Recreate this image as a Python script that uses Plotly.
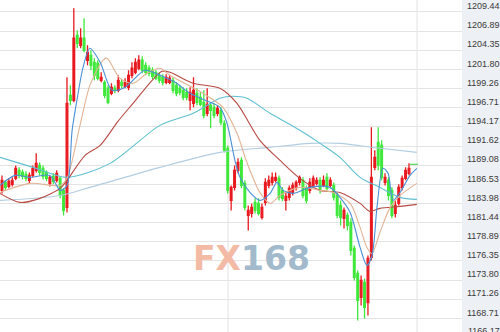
import plotly.graph_objects as go

# ---------------- data ----------------
candle_idx = list(range(120))
opens = [1185.73,1186.79,1186.26,1186.53,1187.33,1188.39,1188.12,1187.86,1187.06,1187.72,
         1188.39,1189.05,1188.66,1188.12,1186.66,1187.59,1187.06,1187.33,1185.73,1183.47,
         1198.36,1197.70,1206.34,1205.01,1205.95,1203.02,1203.68,1202.75,1202.62,1200.36,
         1200.09,1199.30,1198.63,1199.30,1199.03,1200.09,1199.56,1199.43,1201.02,1201.42,
         1201.96,1203.02,1202.35,1201.96,1201.69,1201.42,1201.02,1200.76,1200.09,1200.09,
         1200.36,1199.69,1199.30,1199.03,1198.76,1197.70,1197.30,1198.63,1198.10,1197.43,
         1195.97,1197.03,1196.77,1195.97,1196.37,1194.64,1191.32,1184.40,1186.13,1188.39,
         1189.72,1186.66,1182.40,1182.67,1184.13,1184.00,1182.14,1184.13,1186.39,1186.79,
         1187.06,1187.33,1185.73,1184.40,1184.80,1185.46,1186.13,1186.79,1187.06,1186.00,
         1185.73,1186.39,1186.66,1187.06,1186.39,1187.46,1186.39,1186.39,1185.06,1183.73,
         1182.01,1182.40,1181.47,1178.02,1174.69,1171.50,1173.49,1170.83,1176.82,1188.79,
         1192.11,1191.71,1186.79,1187.06,1185.73,1182.67,1184.00,1186.13,1187.33,1187.99]
highs = [1187.72,1187.06,1187.33,1187.46,1189.05,1188.79,1188.52,1188.26,1188.12,1189.05,
         1190.65,1189.45,1189.05,1188.39,1187.72,1187.99,1188.39,1187.59,1186.00,1200.76,
         1199.69,1209.94,1207.01,1207.28,1208.61,1205.01,1204.35,1203.29,1203.02,1201.42,
         1200.36,1199.69,1199.96,1199.69,1201.02,1200.49,1200.63,1201.69,1202.75,1203.29,
         1203.68,1203.55,1202.75,1202.35,1202.09,1201.69,1201.42,1201.16,1201.16,1201.02,
         1200.76,1200.09,1199.69,1199.43,1199.30,1199.43,1200.76,1199.30,1198.76,1199.03,
         1199.30,1197.43,1197.30,1197.03,1196.77,1195.04,1191.71,1186.39,1189.05,1189.99,
         1190.12,1187.06,1183.73,1184.00,1184.67,1184.67,1184.00,1187.33,1187.72,1188.12,
         1188.12,1187.72,1186.13,1185.46,1186.39,1186.79,1187.06,1187.72,1187.46,1186.39,
         1187.33,1187.72,1187.46,1187.46,1187.72,1187.99,1187.46,1186.79,1185.46,1184.40,
         1183.47,1182.80,1182.01,1178.41,1175.09,1174.42,1174.03,1177.08,1194.11,1191.05,
         1194.11,1192.38,1187.99,1187.46,1186.13,1184.40,1186.53,1187.72,1188.79,1189.32]
lows = [1185.33,1185.73,1186.00,1186.26,1187.06,1187.33,1187.19,1186.93,1186.66,1187.46,
        1188.12,1187.72,1187.19,1186.93,1186.26,1186.53,1186.79,1184.67,1182.40,1182.80,
        1197.03,1197.43,1204.62,1204.62,1204.08,1202.35,1201.69,1200.36,1200.36,1200.09,
        1197.97,1197.17,1198.36,1198.63,1198.76,1199.30,1199.30,1199.03,1200.63,1201.16,
        1201.69,1201.29,1201.02,1200.89,1200.49,1200.36,1199.96,1199.69,1199.83,1199.83,
        1198.63,1198.23,1198.36,1197.70,1197.70,1196.37,1196.77,1197.03,1196.90,1195.31,
        1195.57,1193.98,1195.31,1195.57,1194.37,1190.78,1185.33,1183.07,1185.73,1187.99,
        1186.00,1183.07,1180.41,1182.14,1182.67,1182.40,1181.87,1183.73,1186.00,1186.39,
        1186.79,1184.40,1184.27,1183.07,1184.40,1185.06,1185.73,1186.39,1184.67,1184.00,
        1185.33,1186.00,1186.39,1185.33,1186.13,1185.73,1186.00,1184.40,1182.01,1181.07,
        1180.68,1180.41,1177.08,1173.76,1168.44,1170.43,1168.71,1169.10,1176.42,1188.39,
        1188.39,1187.06,1186.39,1184.40,1182.01,1182.14,1183.73,1185.73,1187.06,1187.72]
closes = [1187.06,1186.13,1186.93,1187.06,1188.66,1187.72,1187.59,1187.33,1187.72,1188.66,
          1189.32,1188.12,1187.59,1187.33,1187.46,1186.93,1187.99,1185.06,1183.07,1197.30,
          1197.70,1205.95,1205.28,1205.95,1204.35,1204.08,1202.35,1201.02,1200.63,1200.76,
          1198.36,1197.43,1199.43,1199.03,1200.36,1199.69,1200.09,1201.02,1201.96,1202.75,
          1203.02,1201.69,1201.42,1201.29,1200.89,1200.63,1200.36,1200.09,1200.76,1200.63,
          1199.03,1198.63,1198.76,1198.10,1198.10,1198.76,1199.03,1197.43,1197.17,1195.70,
          1197.17,1196.37,1195.70,1196.64,1194.77,1191.05,1185.73,1186.13,1188.39,1189.45,
          1186.39,1183.47,1183.07,1183.47,1183.07,1182.67,1183.47,1186.79,1187.06,1187.46,
          1187.46,1184.80,1184.67,1184.93,1186.00,1186.39,1186.79,1187.46,1185.06,1184.40,
          1186.79,1187.33,1187.06,1185.73,1187.06,1186.00,1187.06,1184.80,1182.40,1182.14,
          1183.07,1181.07,1177.75,1174.16,1171.10,1173.76,1170.17,1176.69,1187.46,1190.12,
          1189.05,1187.46,1187.46,1185.06,1182.40,1183.73,1186.13,1187.33,1188.39,1188.66]

ma_fast_x = [-0.6,3.8,8.2,14.0,17.0,19.0,20.5,21.9,23.7,25.7,28.7,32.2,36.0,41.8,46.2,50.6,55.0,59.4,
             63.7,65.8,68.1,69.6,72.5,75.4,78.4,80.4,82.2,85.1,90.1,95.9,98.8,101.8,104.7,106.7,
             108.2,109.7,111.4,112.9,114.3,116.4,119.3,121.3]
ma_fast_y = [1186.39,1187.72,1187.46,1187.72,1185.73,1186.39,1193.71,1197.70,1202.09,1204.62,1202.75,
             1199.03,1199.43,1201.69,1201.02,1200.09,1198.63,1197.70,1196.77,1194.64,1189.72,1187.46,
             1185.46,1184.40,1185.33,1186.79,1185.73,1185.33,1186.13,1186.13,1184.80,1182.80,1178.15,
             1175.76,1177.08,1183.73,1188.66,1187.99,1184.40,1185.46,1187.72,1188.66]

ma_mid_x = [-0.6,8.2,17.0,19.0,22.8,25.7,29.5,30.7,34.5,38.3,42.4,46.2,49.1,58.8,64.6,68.7,71.6,75.4,
            78.4,81.3,87.1,93.0,96.8,101.8,104.7,106.7,108.2,110.5,113.5,116.4,121.3]
ma_mid_y = [1185.46,1186.66,1186.39,1187.33,1194.37,1199.69,1203.02,1203.29,1200.63,1199.96,1201.29,
            1201.96,1201.02,1198.63,1196.77,1193.31,1189.45,1185.46,1184.00,1185.06,1186.13,1185.73,
            1185.46,1184.00,1180.81,1178.15,1177.35,1180.14,1183.47,1185.06,1186.66]

ma30_x = [-0.6,5.3,11.1,17.0,19.0,24.3,28.7,33.9,38.3,43.9,46.8,49.1,55.9,63.7,68.7,75.4,81.3,87.1,
          93.0,98.8,104.7,107.6,110.5,116.4,121.3]
ma30_y = [1185.33,1184.13,1184.67,1186.00,1187.06,1190.38,1191.71,1194.90,1197.30,1200.36,1201.55,
          1201.42,1199.96,1199.30,1197.30,1192.38,1189.72,1187.33,1185.73,1185.46,1184.00,1182.94,
          1183.34,1183.60,1183.87]

ma60_x = [-0.6,9.1,19.0,31.6,46.2,55.9,63.7,67.5,71.6,78.4,87.1,93.0,98.8,104.7,110.5,116.4,121.3]
ma60_y = [1190.12,1188.79,1187.46,1189.32,1194.37,1195.97,1197.97,1198.23,1197.97,1195.97,1193.71,
          1191.98,1190.12,1187.46,1186.13,1184.80,1184.53]

ma120_x = [-0.6,17.0,25.7,46.2,63.7,78.4,90.1,98.8,110.5,121.3]
ma120_y = [1184.40,1185.06,1186.13,1188.79,1190.78,1191.45,1191.98,1191.98,1191.32,1190.78]

last_price_x = [119.3, 121.6]
last_price = [1189.19, 1189.19]

tick_vals = [1209.44,1206.89,1204.35,1201.80,1199.26,1196.71,1194.17,1191.62,1189.08,
             1186.53,1183.98,1181.44,1178.89,1176.35,1173.80,1171.26,1168.71]
tick_text = ["1209.44","1206.89","1204.35","1201.80","1199.26","1196.71","1194.17","1191.62",
             "1189.08","1186.53","1183.98","1181.44","1178.89","1176.35","1173.80","1171.26","1168.71"]
bottom_tick = "1166.17"
session_breaks = [66.1, 121.35]

# ---------------- figure ----------------
W, H = 500, 332
MR = 38
fig = go.Figure()

ma_styles = [
    (ma120_x, ma120_y, "#b3cde0"),
    (ma60_x, ma60_y, "#5fc0d0"),
    (ma30_x, ma30_y, "#b84a44"),
    (ma_mid_x, ma_mid_y, "#e2b394"),
]

fig.add_trace(go.Candlestick(
    x=candle_idx, open=opens, high=highs, low=lows, close=closes,
    increasing=dict(line=dict(color="#e8191f", width=1.3), fillcolor="#e8191f"),
    decreasing=dict(line=dict(color="#3fe83a", width=1.3), fillcolor="#3fe83a"),
    whiskerwidth=0, showlegend=False, hoverinfo="skip"))

for xs, ys, col in ma_styles:
    fig.add_trace(go.Scatter(x=xs, y=ys, mode="lines",
                             line=dict(color=col, width=1.1, shape="spline", smoothing=0.8),
                             showlegend=False, hoverinfo="skip"))
fig.add_trace(go.Scatter(x=ma_fast_x, y=ma_fast_y, mode="lines",
                         line=dict(color="#4a8fd6", width=1.1, shape="spline", smoothing=0.8),
                         showlegend=False, hoverinfo="skip"))
fig.add_trace(go.Scatter(x=last_price_x, y=last_price, mode="lines",
                         line=dict(color="#57d957", width=1.2), showlegend=False, hoverinfo="skip"))

shapes = [dict(type="rect", xref="paper", yref="paper", x0=1, x1=W / (W - MR), y0=0, y1=1,
               fillcolor="#edf0f4", line=dict(width=0), layer="below")]
for b in session_breaks:
    shapes.append(dict(type="line", xref="x", yref="paper", x0=b, x1=b, y0=0, y1=1,
                       line=dict(color="#e3e3e3", width=1), layer="below"))

fig.update_layout(
    width=W, height=H, margin=dict(l=0, r=MR, t=0, b=0),
    paper_bgcolor="white", plot_bgcolor="white",
    shapes=shapes,
    xaxis=dict(range=[-0.585, 134.5], showgrid=False, zeroline=False, showticklabels=False,
               rangeslider=dict(visible=False), fixedrange=True),
    yaxis=dict(range=[1166.91, 1211.03], side="right", tickvals=tick_vals, ticktext=tick_text,
               showgrid=True, gridcolor="#e4e4e4", gridwidth=1, zeroline=False,
               ticks="", ticklabelstandoff=4, ticklabelshift=-6,
               tickfont=dict(family="Liberation Sans, Arial", size=9, color="#3a3a3a")),
    annotations=[
        dict(xref="paper", yref="paper", x=252 / (W - MR), y=1 - 258 / H, showarrow=False,
             xanchor="center", yanchor="middle",
             text="<b><span style='color:#f3bba6'>FX</span><span style='color:#a2bacc'>168</span></b>",
             font=dict(family="DejaVu Sans", size=33)),
        dict(xref="paper", yref="paper", x=1 + 4 / (W - MR), y=1 - 331 / H, xanchor="left",
             yanchor="middle", showarrow=False, text=bottom_tick,
             font=dict(family="Liberation Sans, Arial", size=9, color="#3a3a3a")),
    ],
)

fig.write_html("out.html")
